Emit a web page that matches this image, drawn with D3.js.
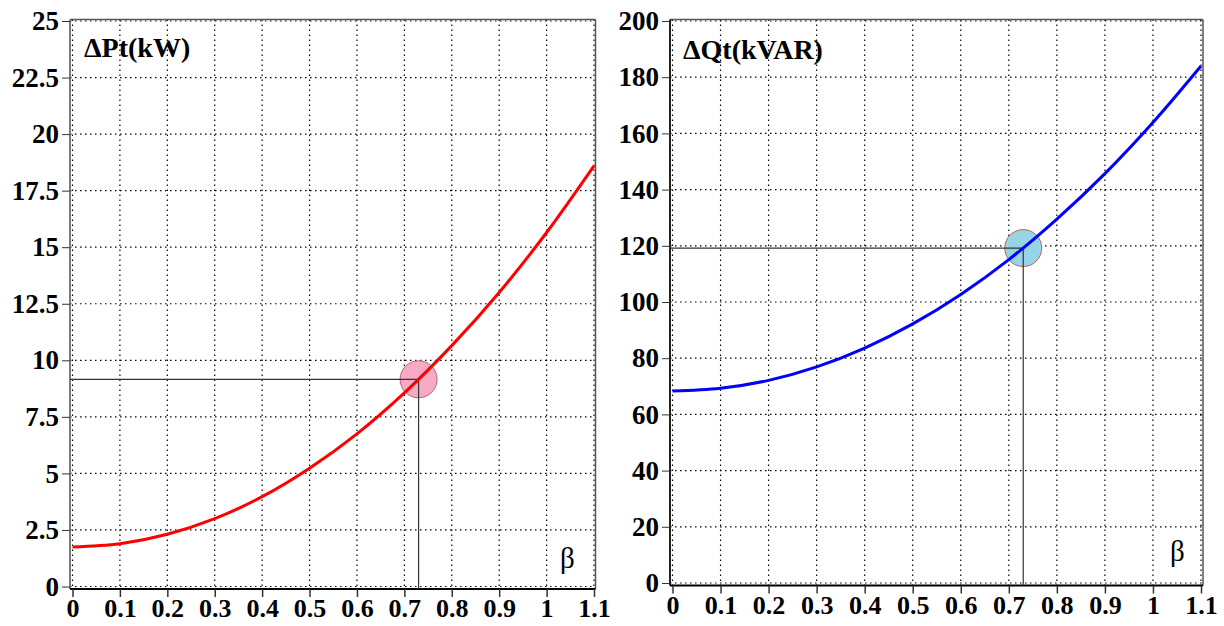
<!DOCTYPE html>
<html>
<head>
<meta charset="utf-8">
<script src="https://cdn.jsdelivr.net/npm/d3@7"></script>
<style>
  body { margin: 0; background: #fff; }
  svg text { font-family: "Liberation Serif", "Times New Roman", serif; }
</style>
</head>
<body>
<svg id="chart" width="1224" height="626"></svg>
<script>
// beta values along the x axis
const betaValues = [0, 0.1, 0.2, 0.3, 0.4, 0.5, 0.6, 0.7, 0.8, 0.9, 1.0, 1.1];
// (kW)
const deltaP = [1.75, 1.89, 2.31, 3.0, 3.97, 5.23, 6.75, 8.56, 10.65, 13.0, 15.65, 18.6];
// (kVAR)
const deltaQ = [68.3, 69.3, 72.1, 76.9, 83.6, 92.2, 102.7, 115.1, 129.5, 145.7, 163.9, 184.0];

const xTicks = [0, 0.1, 0.2, 0.3, 0.4, 0.5, 0.6, 0.7, 0.8, 0.9, 1, 1.1];
const pTicks = [0, 2.5, 5, 7.5, 10, 12.5, 15, 17.5, 20, 22.5, 25];
const qTicks = [0, 20, 40, 60, 80, 100, 120, 140, 160, 180, 200];

// operating point marked with a circle
const opBeta = 0.73;
const opP = 9.16;
const opQ = 119.2;

const svg = d3.select("#chart");
const tickFont = "'Liberation Serif', 'Times New Roman', serif";

const panels = [
    {
        title: "\u0394Pt(kW)", values: deltaP, yTicks: pTicks, yMax: 25, opY: opP,
        x0: 72.5, x1: 594, y0: 586.5, y1: 21, top: 19.5, right: 595.5,
        lineColor: "#ff0000", dotFill: "#f7aac4", dotStroke: "#c0607a", leftAxisColor: "#7a7a7a",
        titleX: 84, titleY: 57, betaX: 560, betaY: 568
    },
    {
        title: "\u0394Qt(kVAR)", values: deltaQ, yTicks: qTicks, yMax: 200, opY: opQ,
        x0: 672.5, x1: 1201, y0: 583, y1: 21, top: 19.5, right: 1203,
        lineColor: "#0000ff", dotFill: "#95d5e6", dotStroke: "#c06060", leftAxisColor: "#222",
        titleX: 683, titleY: 59, betaX: 1170, betaY: 561
    }
];

panels.forEach(function(p) {
    const x = d3.scaleLinear().domain([0, 1.1]).range([p.x0, p.x1]);
    const y = d3.scaleLinear().domain([0, p.yMax]).range([p.y0, p.y1]);
    const axisX = p.x0 - 2.5;
    const axisY = p.y0 + 2.5;

    const g = svg.append("g");

    // dotted grid
    g.selectAll(".vgrid")
        .data(xTicks)
        .enter()
        .append("line")
        .attr("x1", d => x(d)).attr("x2", d => x(d))
        .attr("y1", p.top).attr("y2", axisY)
        .attr("stroke", "#000")
        .attr("stroke-width", 1.2)
        .attr("stroke-dasharray", "1.5,3.5");

    g.selectAll(".hgrid")
        .data(p.yTicks)
        .enter()
        .append("line")
        .attr("x1", axisX).attr("x2", p.right)
        .attr("y1", d => y(d)).attr("y2", d => y(d))
        .attr("stroke", "#000")
        .attr("stroke-width", 1.2)
        .attr("stroke-dasharray", "1.5,3.5");

    // frame: top and right
    g.append("line")
        .attr("x1", axisX).attr("x2", p.right)
        .attr("y1", p.top).attr("y2", p.top)
        .attr("stroke", "#555").attr("stroke-width", 1.5);
    g.append("line")
        .attr("x1", p.right).attr("x2", p.right)
        .attr("y1", p.top).attr("y2", axisY)
        .attr("stroke", "#555").attr("stroke-width", 1.5);

    // y axis
    const yAxis = g.append("g")
        .attr("transform", `translate(${axisX},0)`)
        .call(d3.axisLeft(y).tickValues(p.yTicks).tickFormat(d => String(d))
            .tickSize(8).tickPadding(3).tickSizeOuter(0));
    yAxis.select(".domain")
        .attr("d", `M0,${p.top}V${axisY}`)
        .attr("stroke", p.leftAxisColor).attr("stroke-width", 2);
    yAxis.selectAll(".tick line").attr("stroke", "#333").attr("stroke-width", 1);
    yAxis.selectAll(".tick text")
        .style("font-family", tickFont)
        .style("font-weight", "bold")
        .style("font-size", "27px")
        .attr("fill", "#000");

    // x axis
    const xAxis = g.append("g")
        .attr("transform", `translate(0,${axisY})`)
        .call(d3.axisBottom(x).tickValues(xTicks).tickFormat(d => String(d))
            .tickSize(8).tickPadding(2).tickSizeOuter(0));
    xAxis.select(".domain")
        .attr("d", `M${axisX},0H${p.right}`)
        .attr("stroke", "#000").attr("stroke-width", 2);
    xAxis.selectAll(".tick line").attr("stroke", "#333").attr("stroke-width", 1.5);
    xAxis.selectAll(".tick text")
        .style("font-family", tickFont)
        .style("font-weight", "bold")
        .style("font-size", "26px")
        .attr("fill", "#000");

    // operating point marker
    g.append("circle")
        .attr("cx", x(opBeta)).attr("cy", y(p.opY))
        .attr("r", 18.5)
        .attr("fill", p.dotFill)
        .attr("stroke", p.dotStroke)
        .attr("stroke-width", 1);

    // guide lines to the operating point
    g.append("path")
        .attr("d", `M${axisX},${y(p.opY)}H${x(opBeta)}V${axisY}`)
        .attr("fill", "none")
        .attr("stroke", "#333")
        .attr("stroke-width", 1.2);

    // curve
    const line = d3.line()
        .x((d, i) => x(betaValues[i]))
        .y(d => y(d))
        .curve(d3.curveMonotoneX);

    g.append("path")
        .datum(p.values)
        .attr("d", line)
        .attr("fill", "none")
        .attr("stroke", p.lineColor)
        .attr("stroke-width", 3);

    // labels
    g.append("text")
        .attr("x", p.titleX).attr("y", p.titleY)
        .style("font-weight", "bold")
        .style("font-size", "28px")
        .text(p.title);

    g.append("text")
        .attr("x", p.betaX).attr("y", p.betaY)
        .style("font-size", "29px")
        .text("\u03B2");
});
</script>
</body>
</html>
